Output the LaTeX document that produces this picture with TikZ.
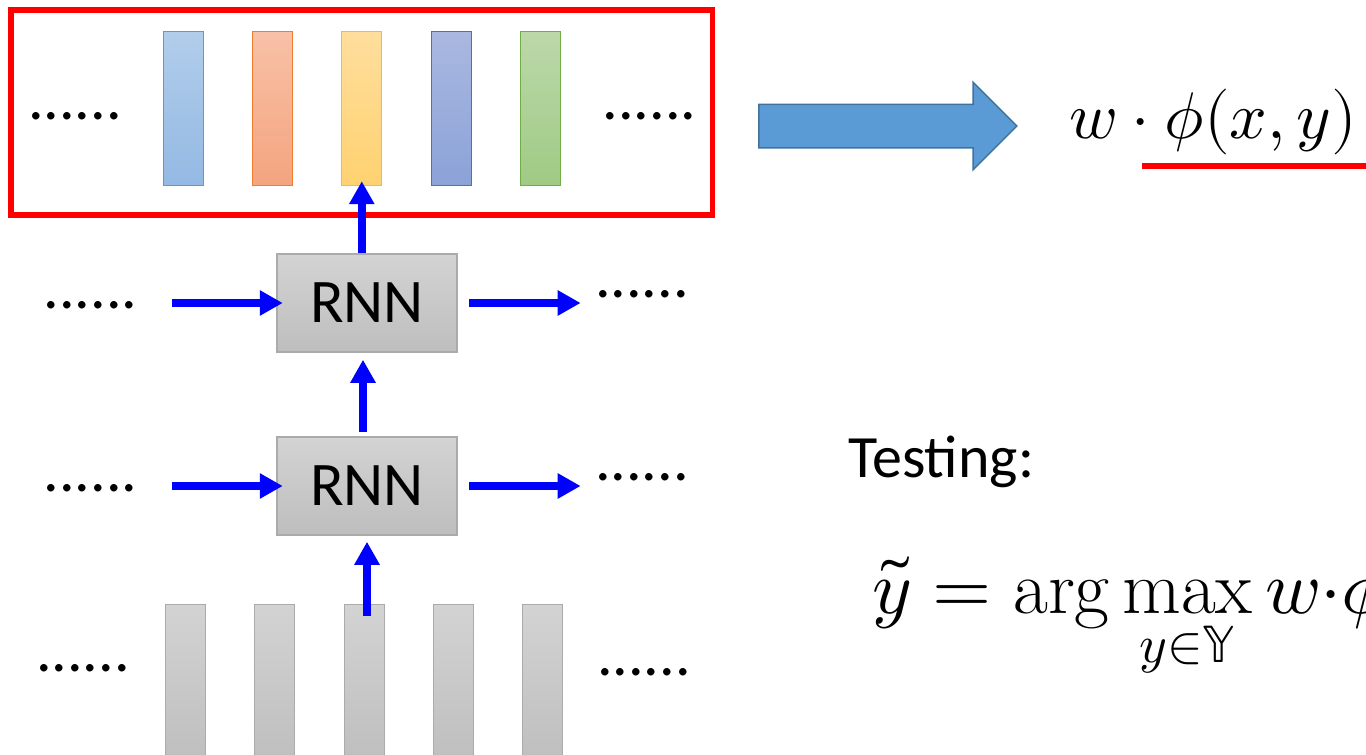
\documentclass[tikz,border=0pt]{standalone}
\usepackage{fontspec}
\usepackage{unicode-math}
\setmainfont{Carlito}
\setmathfont{Latin Modern Math}
\setmathrm{Latin Modern Roman}
\usetikzlibrary{arrows.meta,positioning,shapes.arrows}

\definecolor{skyline}{HTML}{5B9BD5}\definecolor{skytop}{HTML}{B1CDEB}\definecolor{skybot}{HTML}{94B9E3}
\definecolor{peachline}{HTML}{ED7D31}\definecolor{peachtop}{HTML}{F8C1A7}\definecolor{peachbot}{HTML}{F4A47F}
\definecolor{goldline}{HTML}{FFC000}\definecolor{goldtop}{HTML}{FFDE9D}\definecolor{goldbot}{HTML}{FFD271}
\definecolor{navyline}{HTML}{4472C4}\definecolor{navytop}{HTML}{AAB8E0}\definecolor{navybot}{HTML}{8BA2D8}
\definecolor{leafline}{HTML}{70AD47}\definecolor{leaftop}{HTML}{BCD8AA}\definecolor{leafbot}{HTML}{9FCA84}
\definecolor{greyline}{HTML}{ABABAB}\definecolor{greytop}{HTML}{D3D3D3}\definecolor{greybot}{HTML}{BEBEBE}
\definecolor{bigfill}{HTML}{5B9BD5}\definecolor{bigline}{HTML}{41719C}

\tikzset{
  bar/.style={minimum width=20pt, minimum height=77pt, inner sep=0pt, line width=0.5pt},
  rnnbox/.style={draw=greyline, top color=greytop, bottom color=greybot, line width=0.75pt,
    minimum width=90pt, minimum height=49pt, inner sep=0pt, font=\fontsize{31}{36}\selectfont},
  dotstext/.style={inner sep=0pt, font=\fontsize{31}{36}\selectfont},
  flow/.style={draw=blue, line width=4pt, -{Triangle[length=11.5pt,width=12pt]}},
}

\begin{document}
\begin{tikzpicture}[x=0.5pt,y=-0.5pt]
  \clip (0,0) rectangle (1366,755);
  % output layer
  \node[draw=red, line width=2.75pt, minimum width=350.75pt, minimum height=102.5pt, inner sep=0pt] (outbox) at (361.75,112.5) {};
  \node[bar, draw=skyline, top color=skytop, bottom color=skybot] (out1) at (183.3,108.7) {};
  \node[bar, draw=peachline, top color=peachtop, bottom color=peachbot] (out2) at (272.5,108.7) {};
  \node[bar, draw=goldline, top color=goldtop, bottom color=goldbot] (out3) at (361.8,108.7) {};
  \node[bar, draw=navyline, top color=navytop, bottom color=navybot] (out4) at (451,108.7) {};
  \node[bar, draw=leafline, top color=leaftop, bottom color=leafbot] (out5) at (540,108.7) {};
  \node[dotstext] (outl) at (75,116) {......};
  \node[dotstext] (outr) at (649.5,116) {......};
  % RNN layers
  \node[rnnbox] (rnn1) at (367,303) {RNN};
  \node[rnnbox] (rnn2) at (367,486) {RNN};
  \node[dotstext] (l1) at (90.5,305) {......};
  \node[dotstext] (r1) at (642,294) {......};
  \node[dotstext] (l2) at (90.5,488) {......};
  \node[dotstext] (r2) at (642,477) {......};
  % input vectors
  \node[bar, draw=greyline, top color=greytop, bottom color=greybot, minimum height=80pt] (in1) at (185,684) {};
  \node[bar, draw=greyline, top color=greytop, bottom color=greybot, minimum height=80pt] (in2) at (274.5,684) {};
  \node[bar, draw=greyline, top color=greytop, bottom color=greybot, minimum height=80pt] (in3) at (364,684) {};
  \node[bar, draw=greyline, top color=greytop, bottom color=greybot, minimum height=80pt] (in4) at (453,684) {};
  \node[bar, draw=greyline, top color=greytop, bottom color=greybot, minimum height=80pt] (in5) at (542,684) {};
  \node[dotstext] (inl) at (83,668) {......};
  \node[dotstext] (inr) at (644,672) {......};
  % connections
  \draw[flow, shorten >=-2.5pt] (rnn1.north -| out3.south) -- (out3.south);
  \draw[flow, shorten <=2pt, shorten >=3.5pt] ([xshift=-2pt]rnn2.north) -- ([xshift=-2pt]rnn1.south);
  \draw[flow, shorten <=-6pt, shorten >=3pt] (rnn2.south |- in3.north) -- (rnn2.south);
  \draw[flow, shorten <=17pt, shorten >=-3.25pt] (l1.east |- rnn1.west) -- (rnn1.west);
  \draw[flow, shorten <=5.5pt, shorten >=7pt] (rnn1.east) -- (r1.west |- rnn1.east);
  \draw[flow, shorten <=17pt, shorten >=-3.25pt] (l2.east |- rnn2.west) -- (rnn2.west);
  \draw[flow, shorten <=5.5pt, shorten >=7pt] (rnn2.east) -- (r2.west |- rnn2.east);
  % score
  \node[single arrow, draw=bigline, fill=bigfill, line width=0.75pt, minimum height=129pt, minimum width=43pt,
    single arrow head extend=11pt, single arrow head indent=0pt, inner sep=0pt, inner ysep=10.5pt] (bigarrow) at (877,126) {};
  \node[anchor=base west, inner sep=0pt, font=\fontsize{33}{40}\selectfont] (score) at (1069,138) {$w\cdot\phi(x,y)$};
  \draw[red, line width=3pt] (1142,166) -- (1370,166);
  % testing
  \node[anchor=base west, inner sep=0pt, font=\fontsize{30}{36}\selectfont] (testing) at (848,477) {Testing:};
  \node[anchor=base west, inner sep=0pt, font=\fontsize{38}{46}\selectfont] (argmax) at (872,613)
    {$\displaystyle\tilde{y} = \arg\max_{y\in\mathbb{Y}} w{\cdot}\phi$};
\end{tikzpicture}
\end{document}
